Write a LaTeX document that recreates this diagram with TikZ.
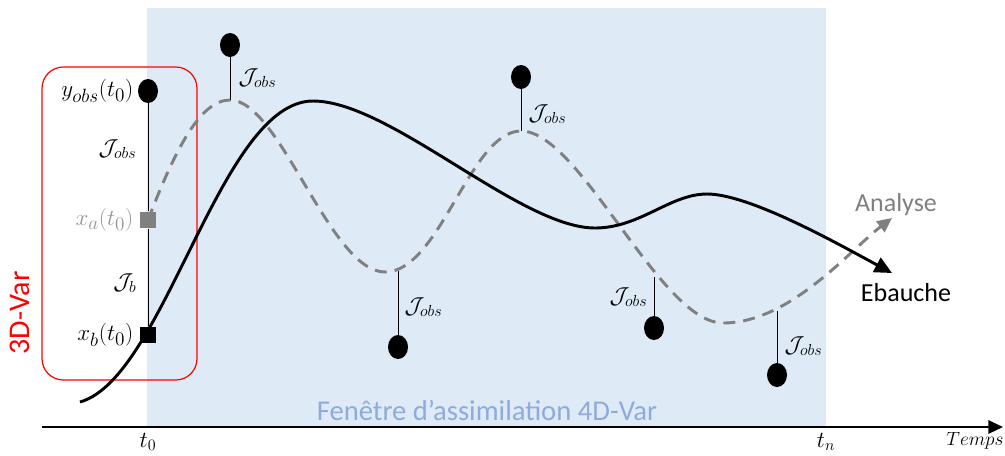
\documentclass[tikz,border=0pt]{standalone}
\usepackage{fontspec}
\setmainfont{Carlito}
\usetikzlibrary{arrows.meta,shapes.geometric}
\definecolor{bgblue}{RGB}{222,235,247}
\definecolor{lblue}{RGB}{143,170,220}
\definecolor{agray}{RGB}{128,128,128}
\definecolor{tgray}{RGB}{150,150,150}
\definecolor{rred}{RGB}{255,0,0}
\begin{document}
\begin{tikzpicture}[x=0.75pt,y=-0.75pt,
  obs/.style={ellipse,fill=black,inner sep=0pt,minimum width=15pt,minimum height=18pt},
  sq/.style={rectangle,inner sep=0pt,minimum size=12.5pt},
  mlab/.style={inner sep=1pt,font=\fontsize{17}{20}\selectfont},
  blab/.style={inner sep=1pt,font=\fontsize{19}{22}\selectfont},
  tlab/.style={inner sep=1pt,font=\fontsize{19.5}{23}\selectfont},
  stem/.style={line width=0.7pt},
  solidc/.style={line width=2.2pt,line join=round},
  dashc/.style={line width=2.2pt,agray,dash pattern=on 9pt off 6pt}
]
\useasboundingbox (0,0) rectangle (1005,455);
% assimilation window
\fill[bgblue] (147,8) rectangle (826,427);
\node[lblue,inner sep=1pt,font=\fontsize{21.5}{25}\selectfont] (win) at (487,410) {Fenêtre d’assimilation 4D-Var};
% time axis
\coordinate (ax0) at (42,427);
\coordinate (ax1) at (1003,427);
\draw[line width=1.6pt,-{Triangle[length=11pt,width=10pt]}] (ax0) -- (ax1);
\node[mlab] (t0) at (148,442) {$t_0$};
\node[mlab] (tn) at (826,442) {$t_n$};
\node[inner sep=1pt,font=\fontsize{14}{16}\selectfont] (temps) at (975,441) {$Temps$};
% 3D-Var box
\draw[rred,line width=0.9pt,rounded corners=16pt] (42,67) rectangle (197,380);
\node[rred,rotate=90,inner sep=0pt,font=\fontsize{22.5}{26}\selectfont] (tdv) at (20,313) {3D-Var};
% analysis curve (dashed)
\draw[dashc,-{Triangle[length=11pt,width=10pt]}] (148,220)
  .. controls (175,150) and (200,100) .. (230,100)
  .. controls (280,100) and (330,272) .. (385,272)
  .. controls (440,272) and (470,131) .. (521,131)
  .. controls (580,131) and (660,323) .. (723,323)
  .. controls (790,323) and (850,250) .. (892,218);
% background curve (solid)
\draw[solidc,-{Triangle[length=13pt,width=12pt]}] (80,402)
  .. controls (165,378) and (220,101) .. (313,101)
  .. controls (390,101) and (520,228) .. (595,228)
  .. controls (640,228) and (670,194) .. (707,194)
  .. controls (750,194) and (840,245) .. (892,273);
\node[tlab,agray] (ana) at (896,205) {Analyse};
\node[tlab] (eba) at (906,293) {Ebauche};
% 3D-Var column
\node[obs] (yo) at (148,91) {};
\node[sq,fill=agray] (xa) at (148,220) {};
\node[sq,fill=black] (xb) at (148,335) {};
\draw[stem] (yo) -- (xa);
\draw[stem] (xa) -- (xb);
\node[blab,anchor=east] (lyo) at (135,91) {$y_{obs}(t_0)$};
\node[mlab,anchor=east] (ljo) at (138,149) {$\mathcal{J}_{obs}$};
\node[blab,anchor=east,tgray] (lxa) at (135,220) {$x_a(t_0)$};
\node[mlab,anchor=east] (ljb) at (138,283) {$\mathcal{J}_b$};
\node[blab,anchor=east] (lxb) at (135,335) {$x_b(t_0)$};
% observations
\node[obs] (o1) at (230,45) {};
\coordinate (a1) at (230,100);
\draw[stem] (o1) -- (a1);
\node[mlab,anchor=west] (j1) at (237,78) {$\mathcal{J}_{obs}$};
\node[obs] (o2) at (398,347) {};
\coordinate (a2) at (398,271);
\draw[stem] (o2) -- (a2);
\node[mlab,anchor=west] (j2) at (403,307) {$\mathcal{J}_{obs}$};
\node[obs] (o3) at (521,77) {};
\coordinate (a3) at (521,131);
\draw[stem] (o3) -- (a3);
\node[mlab,anchor=west] (j3) at (527,114) {$\mathcal{J}_{obs}$};
\node[obs] (o4) at (654,328) {};
\coordinate (a4) at (654,277);
\draw[stem] (o4) -- (a4);
\node[mlab,anchor=east] (j4) at (649,297) {$\mathcal{J}_{obs}$};
\node[obs] (o5) at (777,375) {};
\coordinate (a5) at (777,311);
\draw[stem] (o5) -- (a5);
\node[mlab,anchor=west] (j5) at (783,346) {$\mathcal{J}_{obs}$};
\end{tikzpicture}
\end{document}
